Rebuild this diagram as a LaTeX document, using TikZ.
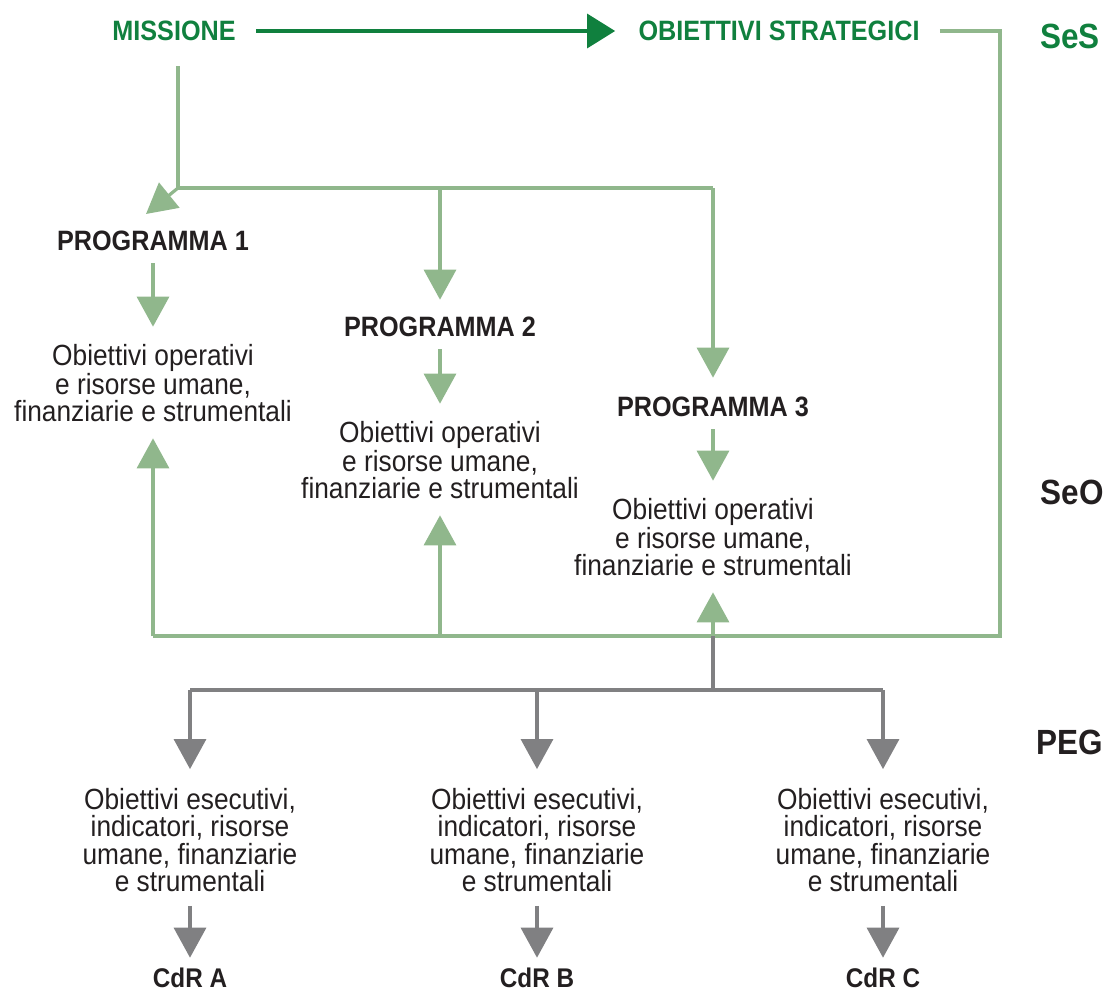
\documentclass[tikz,border=0pt]{standalone}
\usepackage{fontspec}
\setmainfont[FakeStretch=0.9]{Liberation Sans}
\usetikzlibrary{arrows.meta,positioning}
\definecolor{darkgreen}{RGB}{16,128,62}
\definecolor{softgreen}{RGB}{144,183,140}
\definecolor{darkgrey}{RGB}{128,128,130}
\definecolor{inkblack}{RGB}{35,31,32}

\begin{document}
\begin{tikzpicture}[x=0.5pt,y=-0.5pt,line join=miter,
  head/.style={inner sep=0pt,font=\fontsize{14}{14}\selectfont\bfseries,text=inkblack},
  body/.style={inner sep=0pt,align=center,font=\fontsize{14.6}{13.6}\selectfont,text=inkblack},
  level/.style={inner sep=0pt,font=\fontsize{17.5}{17.5}\selectfont\bfseries,text=inkblack},
  lineG/.style={line width=1.6pt,draw=softgreen},
  lineK/.style={line width=1.6pt,draw=darkgrey},
  tipG/.style={lineG,-{Triangle[width=16pt,length=15pt]},color=softgreen},
  tipK/.style={lineK,-{Triangle[width=16pt,length=15pt]},color=darkgrey},
  tipD/.style={line width=1.7pt,-{Triangle[width=17pt,length=14pt]},color=darkgreen}]
 \useasboundingbox (0,0) rectangle (1106,991);
   % levels
   \node (SES) at (1070,36) [level,text=darkgreen] {SeS};
   \node (SEO) at (1072,492) [level] {SeO};
   \node (PEG) at (1070,742) [level] {PEG};
   % strategic section
   \node (MIS) at (174,31) [head,text=darkgreen] {MISSIONE};
   \node (OBS) at (779,31) [head,text=darkgreen] {OBIETTIVI STRATEGICI};
   \draw[tipD,shorten <=10pt,shorten >=11.5pt] (MIS.east) -- (OBS.west);
   % programmes
   \node (P1) at (153,241) [head] {PROGRAMMA 1};
   \node (P2) at (440,327) [head] {PROGRAMMA 2};
   \node (P3) at (713,407) [head] {PROGRAMMA 3};
   \node (O1) at (153,383) [body] {Obiettivi operativi\\ e risorse umane,\\ finanziarie e strumentali};
   \node (O2) at (440,460) [body] {Obiettivi operativi\\ e risorse umane,\\ finanziarie e strumentali};
   \node (O3) at (713,537) [body] {Obiettivi operativi\\ e risorse umane,\\ finanziarie e strumentali};
   \coordinate (J0) at (178,188);
   \coordinate (J3) at (713,188);
   \coordinate (J2) at (440,188);
   \coordinate (P1in) at (146,214);
   \draw[lineG,shorten <=12.5pt] (J0 |- MIS.south) -- (J0) -- (J3);
   \draw[tipG] (J0) -- (P1in);
   \draw[tipG,shorten >=8.5pt] (J2) -- (P2.north);
   \draw[tipG,shorten >=9.5pt] (J3) -- (P3.north);
   \foreach \i in {1,2,3} {
    \draw[tipG,shorten <=6pt,shorten >=8.5pt] (P\i.south) -- (O\i.north);
   }
   % feedback from strategic objectives
   \coordinate (K2) at (1000,636);
   \coordinate (K1) at (OBS.east -| K2);
   \coordinate (B1) at (153,636);
   \coordinate (B2) at (440,636);
   \coordinate (B3) at (713,636);
   \draw[lineG,shorten <=10pt] (OBS.east) -- (K1) -- (K2) -- (B1);
   \foreach \i in {1,2,3} {
    \draw[tipG,shorten >=8pt] (B\i) -- (O\i.south);
   }
   % executive plan
   \coordinate (G3) at (713,690);
   \draw[lineK] (B3) -- (G3);
   \draw[lineK] (190,690) -- (883,690);
   \foreach \x/\l in {190/A,537/B,883/C} {
    \coordinate (G\l) at (\x,690);
    \node (E\l) at (\x,840) [body] {Obiettivi esecutivi,\\ indicatori, risorse\\ umane, finanziarie\\ e strumentali};
    \node (C\l) at (\x,978) [head,font=\fontsize{13.5}{13.5}\selectfont\bfseries] {CdR \l};
    \draw[tipK,shorten >=9.5pt] (G\l) -- (E\l.north);
    \draw[tipK,shorten <=7pt,shorten >=5pt] (E\l.south) -- (C\l.north);
   }
\end{tikzpicture}
\end{document}
